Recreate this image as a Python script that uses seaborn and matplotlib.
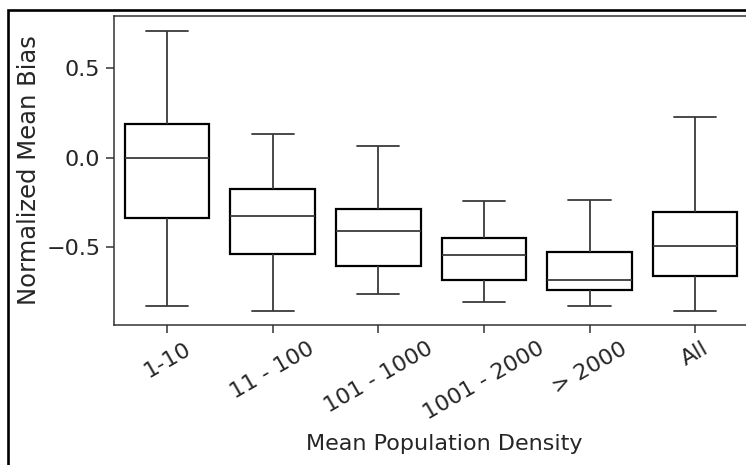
import numpy as np
import pandas as pd
import matplotlib
matplotlib.use("Agg")
import matplotlib.pyplot as plt
from matplotlib.patches import Rectangle
import seaborn as sns

# Categories on the x axis
categories = ["1-10", "11 - 100", "101 - 1000", "1001 - 2000", "> 2000", "All"]

# Box summaries (lower whisker, Q1, median, Q3, upper whisker)
whisker_low = [-0.829, -0.857, -0.762, -0.805, -0.831, -0.857]
q1 = [-0.339, -0.540, -0.604, -0.684, -0.742, -0.660]
median = [0.000, -0.324, -0.412, -0.546, -0.684, -0.492]
q3 = [0.190, -0.173, -0.287, -0.451, -0.526, -0.305]
whisker_high = [0.710, 0.131, 0.067, -0.244, -0.237, 0.226]

# Long-form table: five points per category reproduce the same quartiles
rows = []
for i, cat in enumerate(categories):
    for v in (whisker_low[i], q1[i], median[i], q3[i], whisker_high[i]):
        rows.append({"density": cat, "nmb": v})
df = pd.DataFrame(rows)

sns.set_theme(style="ticks")
plt.rcParams["font.family"] = ["DejaVu Sans"]

fig = plt.figure(figsize=(7.46, 4.65), dpi=100)
ax = fig.add_axes([114.3 / 746, 1 - 324.7 / 465, (748 - 114.3) / 746, (324.7 - 16) / 465])

line_gray = "#3a3a3a"
sns.boxplot(data=df, x="density", y="nmb", order=categories, whis=(0, 100),
            width=0.8, ax=ax,
            boxprops=dict(facecolor="white", edgecolor="black", linewidth=1.6),
            whiskerprops=dict(color=line_gray, linewidth=1.3),
            capprops=dict(color=line_gray, linewidth=1.3),
            medianprops=dict(color=line_gray, linewidth=1.3),
            showfliers=False)

ax.set_ylim(-0.934, 0.792)
ax.set_xlim(-0.5, 5.5)
ax.set_yticks([-0.5, 0.0, 0.5])

for s in ax.spines.values():
    s.set_color("#333333")
    s.set_linewidth(1.1)

ax.tick_params(axis="both", labelsize=16, length=6, width=1.1, color="#333333",
               labelcolor="#262626", pad=4)
plt.setp(ax.get_xticklabels(), rotation=30)

ax.set_xlabel("Mean Population Density", fontsize=16, color="#262626")
ax.set_ylabel("Normalized Mean Bias", fontsize=17.5, color="#262626")
ax.xaxis.set_label_coords((444 - 114.3) / (748 - 114.3), -0.355)

# black frame around the figure (cropped on the right and bottom)
fig.patches.append(Rectangle((8 / 746, -0.1), 1.2, 1 - 10 / 465 + 0.1, fill=False,
                             edgecolor="black", linewidth=1.9,
                             transform=fig.transFigure, figure=fig))

plt.savefig("out.png", dpi=100)
